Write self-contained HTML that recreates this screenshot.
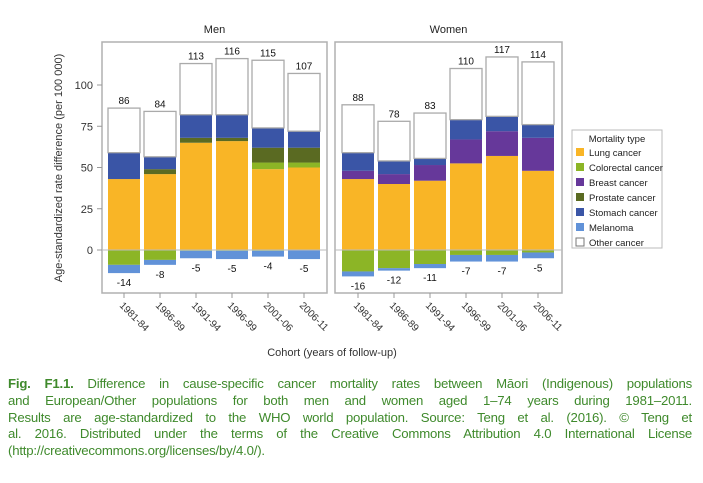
<!DOCTYPE html>
<html><head><meta charset="utf-8"><style>
body{margin:0;background:#fff;width:703px;height:483px;overflow:hidden;font-family:"Liberation Sans",sans-serif}
#cap{position:absolute;left:8px;top:376px;width:684px;font-size:13.2px;line-height:16.8px;color:#3f8a2c;letter-spacing:-0.2px}
#cap div{text-align:justify;text-align-last:justify;white-space:nowrap}
#cap div.last{text-align-last:left}
</style></head><body>
<svg id="chart" width="703" height="375" style="position:absolute;left:0;top:0" font-family="Liberation Sans, sans-serif"></svg>
<div id="cap">
<div><b>Fig. F1.1.</b> Difference in cause-specific cancer mortality rates between Māori (Indigenous) populations</div>
<div>and European/Other populations for both men and women aged 1–74 years during 1981–2011.</div>
<div>Results are age-standardized to the WHO world population. Source: Teng et al. (2016). © Teng et</div>
<div>al. 2016. Distributed under the terms of the Creative Commons Attribution 4.0 International License</div>
<div class="last">(http://creativecommons.org/licenses/by/4.0/).</div>
</div>
<script>
const categories=["1981-84","1986-89","1991-94","1996-99","2001-06","2006-11"];
const yTicks=[0,25,50,75,100];
const menLung=[43,46,65,66,49,50];
const menColorectal=[0,0,0,0,4,3];
const menBreast=[0,0,0,0,0,0];
const menProstate=[0,3,3,2,9,9];
const menStomach=[16,7.5,14,14,12,10];
const menTotal=[86,84,113,116,115,107];
const menNegColorectal=[-9,-6,-0.5,-0.5,-0.5,0];
const menNegMelanoma=[-5,-3,-4.5,-5,-3.5,-5.5];
const menNegTotal=[-14,-8,-5,-5,-4,-5];
const womenLung=[43,40,42,52.5,57,48];
const womenColorectal=[0,0,0,0,0,0];
const womenBreast=[5,6,9.5,14.5,15,20];
const womenProstate=[0,0,0,0,0,0];
const womenStomach=[11,8,4,12,9,8];
const womenTotal=[88,78,83,110,117,114];
const womenNegColorectal=[-13,-11,-8.5,-3,-3,-1.5];
const womenNegMelanoma=[-3,-1.5,-2.5,-4,-4,-3.5];
const womenNegTotal=[-16,-12,-11,-7,-7,-5];
const legendLabels=["Lung cancer","Colorectal cancer","Breast cancer","Prostate cancer","Stomach cancer","Melanoma","Other cancer"];
const C={lung:"#f9b526",colo:"#8cb526",breast:"#66389a",prost:"#5a6a22",stom:"#3a55a6",mel:"#6192d8"};
const legendColors=[C.lung,C.colo,C.breast,C.prost,C.stom,C.mel,"#fff"];
const svg=document.getElementById('chart');const NS="http://www.w3.org/2000/svg";
function el(t,a,txt){const e=document.createElementNS(NS,t);for(const k in a)e.setAttribute(k,a[k]);if(txt!==undefined)e.textContent=txt;svg.appendChild(e);return e;}
function y(v){return 250-1.65*v;}
const bw=32,step=36;
function drawPanel(pid,title,x0,x1,firstC,d){
  let b=el('rect',{x:x0,y:42,width:x1-x0,height:251,fill:'none',stroke:'#b0b0b0','stroke-width':1.5});
  
  let t=el('text',{x:(x0+x1)/2,y:33,'font-size':11,'text-anchor':'middle',fill:'#222'},title);
  
  categories.forEach((c,i)=>{
    const cx=firstC+i*step, bx=cx-bw/2;
    let acc=0;
    const segs=[[d.lung[i],C.lung,'lung'],[d.colo[i],C.colo,'colorectal'],[d.breast[i],C.breast,'breast'],[d.prost[i],C.prost,'prostate'],[d.stom[i],C.stom,'stomach']];
    segs.forEach(s=>{if(s[0]>0){let r=el('rect',{x:bx,y:y(acc+s[0]),width:bw,height:1.65*s[0],fill:s[1]});
      acc+=s[0];}});
    let o=el('rect',{x:bx,y:y(d.total[i]),width:bw,height:1.65*(d.total[i]-acc),fill:'#fff',stroke:'#aaa','stroke-width':1.3});
    
    let nacc=0;
    [[d.ncolo[i],C.colo,'colorectal-neg'],[d.nmel[i],C.mel,'melanoma-neg']].forEach(s=>{if(s[0]<0){let r=el('rect',{x:bx,y:y(nacc),width:bw,height:-1.65*s[0],fill:s[1]});
      nacc+=s[0];}});
    let lt=el('text',{x:cx,y:y(d.total[i])-4,'font-size':10,'text-anchor':'middle',fill:'#111'},d.total[i]);
    
    let ln=el('text',{x:cx,y:y(nacc)+13,'font-size':10,'text-anchor':'middle',fill:'#111'},d.ntot[i]);
    
    let tk=el('line',{x1:cx,x2:cx,y1:293,y2:298,stroke:'#999'});
    
    let tl=el('text',{x:cx-5,y:306,'font-size':10,fill:'#333',transform:`rotate(45 ${cx-5} 306)`},c);
    
  });
  let z=el('line',{x1:x0,x2:x1,y1:y(0),y2:y(0),stroke:'#bbb','stroke-width':1});
  
}
drawPanel('men','Men',102,327,124,{lung:menLung,colo:menColorectal,breast:menBreast,prost:menProstate,stom:menStomach,total:menTotal,ncolo:menNegColorectal,nmel:menNegMelanoma,ntot:menNegTotal});
drawPanel('women','Women',335,562,358,{lung:womenLung,colo:womenColorectal,breast:womenBreast,prost:womenProstate,stom:womenStomach,total:womenTotal,ncolo:womenNegColorectal,nmel:womenNegMelanoma,ntot:womenNegTotal});
yTicks.forEach(v=>{
  let t=el('line',{x1:97,x2:102,y1:y(v),y2:y(v),stroke:'#999'});
  
  let l=el('text',{x:93,y:y(v)+4,'font-size':11,'text-anchor':'end',fill:'#333'},v);
  
});
let yt=el('text',{x:0,y:0,'font-size':11,'text-anchor':'middle',fill:'#333',transform:'translate(62 168) rotate(-90)'},'Age-standardized rate difference (per 100 000)');

let xt=el('text',{x:332,y:356,'font-size':11,'text-anchor':'middle',fill:'#333'},'Cohort (years of follow-up)');

let lb=el('rect',{x:572,y:130,width:90,height:118,fill:'#fff',stroke:'#bbb'});

let lh=el('text',{x:617,y:142,'font-size':9.5,'text-anchor':'middle',fill:'#222'},'Mortality type');

legendLabels.forEach((n,i)=>{
  const yy=148+i*15;
  let s=el('rect',{x:576,y:yy,width:8,height:8,fill:legendColors[i],stroke:i==6?'#777':'none'});
  
  let t=el('text',{x:589,y:yy+8,'font-size':9.5,fill:'#222'},n);
  
});
</script>
</body></html>
